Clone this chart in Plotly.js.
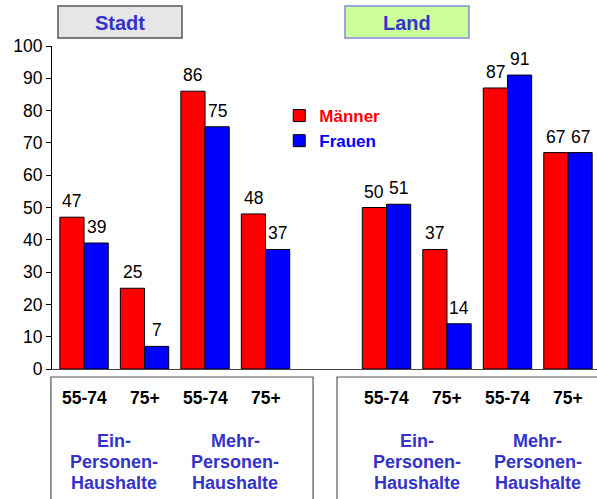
<!DOCTYPE html>
<html><head><meta charset="utf-8">
<script src="https://cdn.plot.ly/plotly-3.0.1.min.js"></script>
<style>html,body{margin:0;padding:0;background:#fff}#chart{width:597px;height:499px}</style>
</head><body><div id="chart"></div>
<script>
// Data
const slots = [0, 1, 2, 3, 5, 6, 7, 8];
const ageLabels = ['55-74', '75+', '55-74', '75+', '55-74', '75+', '55-74', '75+'];
const maenner = [47, 25, 86, 48, 50, 37, 87, 67];
const frauen = [39, 7, 75, 37, 51, 14, 91, 67];
const groupLines = [['Ein-', 'Personen-', 'Haushalte'], ['Mehr-', 'Personen-', 'Haushalte'],
                    ['Ein-', 'Personen-', 'Haushalte'], ['Mehr-', 'Personen-', 'Haushalte']];
const groupPos = [0.5, 2.5, 5.5, 7.5];
const regions = ['Stadt', 'Land'];

const FONT = 'Arial, "Liberation Sans", sans-serif';
const BLUE_TXT = '#3333cc';
const BAR_OFFSET = 0.2; // half of a bar width in a group (bargap 0.2, 2 series)

const traceM = {
  type: 'bar', x: slots, y: maenner, name: '<b><span style="color:#ff0000">Männer</span></b>',
  marker: {color: '#ff0000', line: {color: '#000', width: 1}}, hoverinfo: 'none'
};
const traceF = {
  type: 'bar', x: slots, y: frauen, name: '<b><span style="color:#0000ff">Frauen</span></b>',
  marker: {color: '#0000ff', line: {color: '#000', width: 1}}, hoverinfo: 'none'
};

const annotations = [];
// value labels
slots.forEach((s, i) => {
  annotations.push({x: s - BAR_OFFSET, y: maenner[i], xref: 'x', yref: 'y', text: String(maenner[i]),
    showarrow: false, xanchor: 'center', yanchor: 'middle', yshift: 16, font: {family: FONT, size: 17.5, color: '#000'}});
  annotations.push({x: s + BAR_OFFSET, y: frauen[i], xref: 'x', yref: 'y', text: String(frauen[i]),
    showarrow: false, xanchor: 'center', yanchor: 'middle', yshift: 16, font: {family: FONT, size: 17.5, color: '#000'}});
});
// age labels
slots.forEach((s, i) => {
  annotations.push({x: s, y: -0.0898, xref: 'x', yref: 'paper', text: '<b>' + ageLabels[i] + '</b>',
    showarrow: false, font: {family: FONT, size: 17.5, color: '#000'}, xanchor: 'center', yanchor: 'middle'});
});
// household group labels
const lineY = [-0.2230, -0.2879, -0.3529];
groupPos.forEach((g, i) => {
  groupLines[i].forEach((t, j) => {
    annotations.push({x: g, y: lineY[j], xref: 'x', yref: 'paper', text: '<b>' + t + '</b>',
      showarrow: false, font: {family: FONT, size: 18, color: BLUE_TXT}, xanchor: 'center', yanchor: 'middle'});
  });
});
annotations.push({x: 0.12475, y: 1.071, xref: 'paper', yref: 'paper', text: '<b>' + regions[0] + '</b>',
  showarrow: false, font: {family: FONT, size: 20, color: BLUE_TXT}, xanchor: 'center', yanchor: 'middle'});
annotations.push({x: 0.6513, y: 1.071, xref: 'paper', yref: 'paper', text: '<b>' + regions[1] + '</b>',
  showarrow: false, font: {family: FONT, size: 20, color: BLUE_TXT}, xanchor: 'center', yanchor: 'middle'});

const shapes = [
  {type: 'rect', xref: 'paper', yref: 'paper', x0: 0.011, x1: 0.2385, y0: 1.0248, y1: 1.1238,
    fillcolor: '#e6e6e6', line: {color: '#555', width: 1.5}},
  {type: 'rect', xref: 'paper', yref: 'paper', x0: 0.5376, x1: 0.765, y0: 1.0248, y1: 1.1238,
    fillcolor: '#ccff99', line: {color: '#8888dd', width: 1.5}},
  {type: 'rect', xref: 'paper', yref: 'paper', x0: -0.002, x1: 0.479, y0: -0.0248, y1: -0.5,
    fillcolor: 'rgba(0,0,0,0)', line: {color: '#555', width: 1.2}},
  {type: 'rect', xref: 'paper', yref: 'paper', x0: 0.523, x1: 1.05, y0: -0.0248, y1: -0.5,
    fillcolor: 'rgba(0,0,0,0)', line: {color: '#555', width: 1.2}}
];

const layout = {
  width: 597, height: 499,
  margin: {l: 52, r: 0, t: 46, b: 130},
  paper_bgcolor: '#fff', plot_bgcolor: '#fff',
  barmode: 'group', bargap: 0.2, bargroupgap: 0,
  font: {family: FONT, size: 15, color: '#000'},
  xaxis: {range: [-0.53, 8.48], showticklabels: false, ticks: '', showgrid: false, zeroline: false,
    showline: true, linecolor: '#444', linewidth: 1},
  yaxis: {range: [0, 100], dtick: 10, showgrid: false, zeroline: false, showline: true,
    linecolor: '#000', linewidth: 1, ticks: 'outside', ticklen: 5, tickcolor: '#000',
    tickfont: {family: FONT, size: 17.5, color: '#000'}},
  showlegend: true,
  legend: {x: 0.417, y: 0.839, xanchor: 'left', yanchor: 'top', bgcolor: 'rgba(0,0,0,0)',
    font: {family: FONT, size: 17}, traceorder: 'normal', tracegroupgap: 0},
  annotations: annotations, shapes: shapes
};

Plotly.newPlot('chart', [traceM, traceF], layout, {displayModeBar: false, staticPlot: true});
</script></body></html>
